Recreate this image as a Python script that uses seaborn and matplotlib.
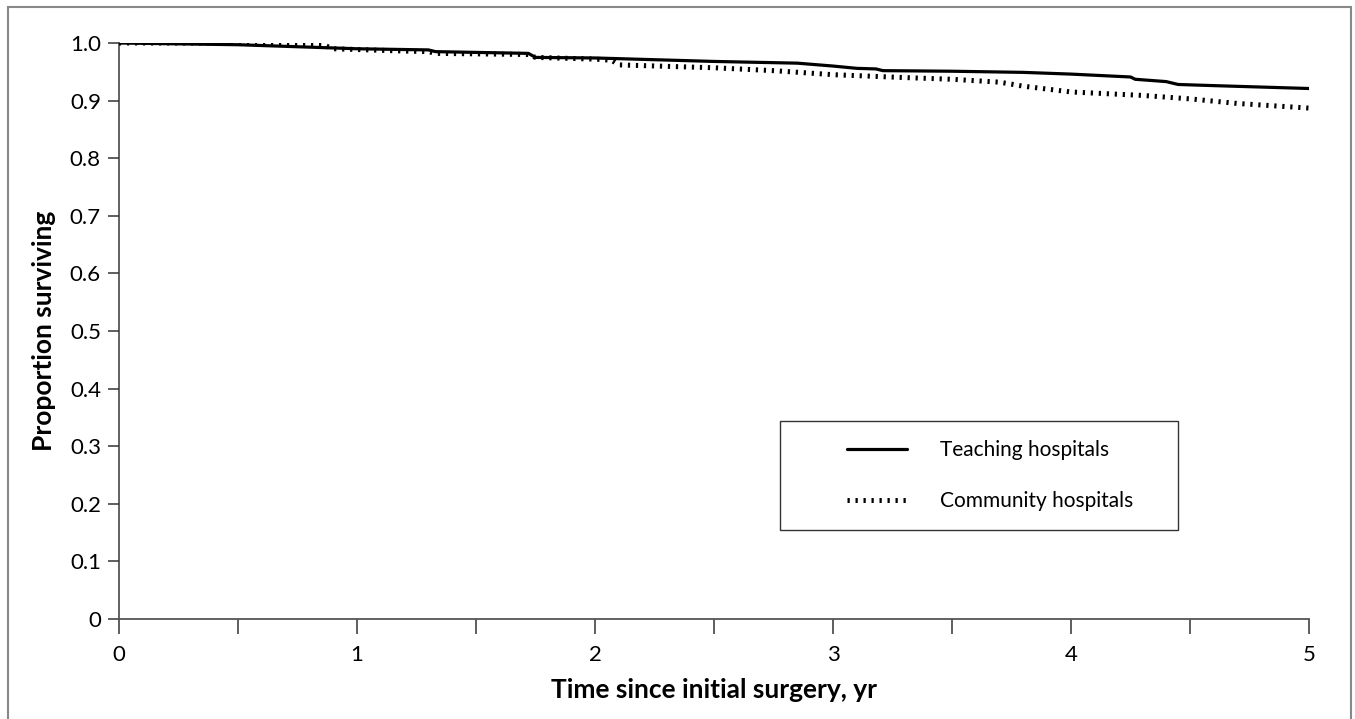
import matplotlib
matplotlib.use("Agg")
import matplotlib.pyplot as plt
from matplotlib.patches import Rectangle
import pandas as pd
import seaborn as sns

# survival curves
teach_t = [0, 0.5, 1.0, 1.3, 1.33, 1.72, 1.75, 2.0, 2.5, 2.85, 3.0, 3.1, 3.18, 3.21, 3.5, 3.8, 4.0, 4.25, 4.27, 4.4, 4.45, 4.6, 5.0]
teach_s = [1.0, 0.997, 0.990, 0.988, 0.985, 0.982, 0.975, 0.974, 0.968, 0.965, 0.960, 0.956, 0.955, 0.952, 0.951, 0.949, 0.946, 0.941, 0.937, 0.933, 0.928, 0.926, 0.921]

comm_t = [0, 0.6, 0.85, 0.9, 1.2, 1.3, 1.33, 1.72, 1.75, 2.0, 2.07, 2.1, 2.5, 2.75, 3.0, 3.3, 3.5, 3.7, 3.8, 4.0, 4.3, 4.5, 4.7, 5.0]
comm_s = [1.0, 1.0, 0.998, 0.990, 0.986, 0.985, 0.982, 0.980, 0.975, 0.972, 0.970, 0.962, 0.957, 0.952, 0.945, 0.940, 0.937, 0.932, 0.925, 0.915, 0.909, 0.903, 0.895, 0.887]

labels = ["Teaching hospitals", "Community hospitals"]

df = pd.concat([
    pd.DataFrame({"t": teach_t, "s": teach_s, "group": labels[0]}),
    pd.DataFrame({"t": comm_t, "s": comm_s, "group": labels[1]}),
])

sns.set_style("ticks")
plt.rcParams["font.family"] = ["Lato", "DejaVu Sans"]
plt.rcParams["text.color"] = "black"
plt.rcParams["axes.labelcolor"] = "black"
plt.rcParams["xtick.labelcolor"] = "black"
plt.rcParams["ytick.labelcolor"] = "black"

fig = plt.figure(figsize=(13.55, 7.19), dpi=100)
ax = fig.add_axes([119 / 1355, 1 - 619 / 719, 1190 / 1355, 576 / 719])

sns.lineplot(data=df, x="t", y="s", hue="group", style="group",
             palette={labels[0]: "black", labels[1]: "black"},
             dashes={labels[0]: "", labels[1]: (0.45, 1.15)},
             sort=False, ax=ax, legend=False)
ax.lines[0].set_linewidth(2.3)
ax.lines[1].set_linewidth(3.6)

ax.set_xlim(0, 5)
ax.set_ylim(0, 1.0)
ax.set_xticks(range(6))
ax.set_xticks([0.5, 1.5, 2.5, 3.5, 4.5], minor=True)
ax.set_yticks([i / 10 for i in range(11)])
ax.set_yticklabels(["0"] + [f"{i / 10:.1f}" for i in range(1, 11)])

for s in ["top", "right"]:
    ax.spines[s].set_visible(False)
for s in ["left", "bottom"]:
    ax.spines[s].set_color("#555555")
    ax.spines[s].set_linewidth(1.3)
ax.spines["left"].set_zorder(0)

ax.tick_params(axis="x", which="both", length=11, width=1.1, color="#333333",
               labelsize=16, pad=8)
ax.tick_params(axis="y", length=8, width=1.1, color="#333333", labelsize=16, pad=5)

ax.set_xlabel("Time since initial surgery, yr", fontsize=19, fontweight="bold", labelpad=9)
ax.set_ylabel("Proportion surviving", fontsize=19, fontweight="bold", labelpad=10)

# legend box
ax.add_patch(Rectangle((661 / 1190, (619 - 530) / 576), 398 / 1190, 109 / 576,
                       transform=ax.transAxes, fill=False, edgecolor="#333333", lw=1.0))
handles = ax.lines[:2]
ax.legend(handles, labels, loc="center", bbox_to_anchor=(0.732, 0.249),
          frameon=False, fontsize=15, handlelength=2.9, handletextpad=1.6,
          labelspacing=1.5)

# outer frame of the figure
fig.patches.append(Rectangle((8 / 1355, -0.05), 1343 / 1355, 1.05 - 7 / 719,
                             transform=fig.transFigure, fill=False,
                             edgecolor="#888888", lw=1.5))

fig.savefig("out.png", dpi=100)
